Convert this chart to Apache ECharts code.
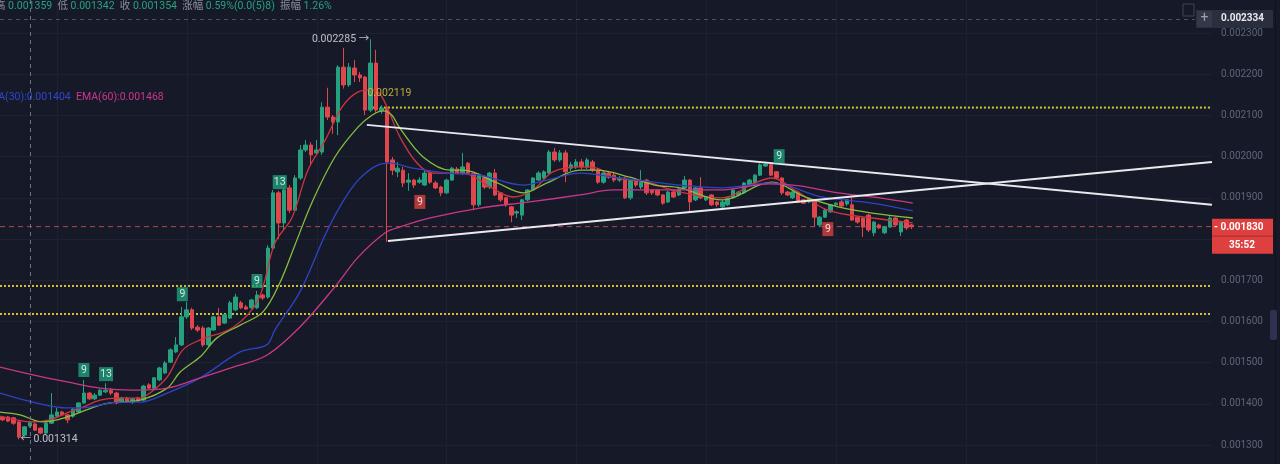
<!DOCTYPE html>
<html><head><meta charset="utf-8">
<script src="https://cdn.jsdelivr.net/npm/echarts@6/dist/echarts.min.js"></script>
<style>html,body{margin:0;padding:0;background:#161a28;overflow:hidden}#c{width:1280px;height:464px}</style>
</head><body><div id="c"></div>
<script>
// ---- data: [open, close, low, high] ----
const candles = [
[0.001368,0.001361,0.001358,0.001370],[0.001368,0.001358,0.001356,0.001370],[0.001366,0.001353,0.001349,0.001368],[0.001356,0.001319,0.001314,0.001358],
[0.001324,0.001344,0.001320,0.001346],[0.001346,0.001354,0.001342,0.001359],[0.001351,0.001336,0.001334,0.001355],[0.001341,0.001329,0.001326,0.001343],
[0.001329,0.001353,0.001326,0.001361],[0.001353,0.001373,0.001351,0.001426],[0.001370,0.001380,0.001368,0.001390],[0.001380,0.001373,0.001370,0.001383],
[0.001373,0.001361,0.001353,0.001375],[0.001370,0.001387,0.001366,0.001390],[0.001380,0.001402,0.001378,0.001404],[0.001402,0.001426,0.001400,0.001458],
[0.001426,0.001412,0.001409,0.001429],[0.001412,0.001421,0.001409,0.001426],[0.001421,0.001433,0.001419,0.001436],[0.001429,0.001433,0.001426,0.001450],
[0.001433,0.001426,0.001421,0.001438],[0.001426,0.001402,0.001399,0.001429],[0.001404,0.001414,0.001402,0.001417],[0.001414,0.001404,0.001402,0.001417],
[0.001404,0.001412,0.001400,0.001414],[0.001414,0.001407,0.001404,0.001417],[0.001409,0.001443,0.001407,0.001446],[0.001446,0.001438,0.001436,0.001450],
[0.001438,0.001463,0.001436,0.001465],[0.001458,0.001487,0.001455,0.001490],[0.001475,0.001499,0.001472,0.001504],[0.001501,0.001531,0.001499,0.001535],
[0.001526,0.001543,0.001523,0.001562],[0.001543,0.001611,0.001540,0.001635],[0.001611,0.001628,0.001606,0.001647],[0.001628,0.001584,0.001579,0.001633],
[0.001586,0.001579,0.001574,0.001591],[0.001584,0.001543,0.001538,0.001589],[0.001543,0.001584,0.001540,0.001586],[0.001579,0.001611,0.001577,0.001613],
[0.001611,0.001591,0.001589,0.001633],[0.001596,0.001616,0.001594,0.001618],[0.001608,0.001645,0.001606,0.001650],[0.001628,0.001659,0.001625,0.001667],
[0.001645,0.001633,0.001630,0.001650],[0.001635,0.001630,0.001628,0.001640],[0.001633,0.001652,0.001630,0.001655],[0.001633,0.001664,0.001630,0.001674],
[0.001664,0.001657,0.001652,0.001667],[0.001659,0.001778,0.001655,0.001785],[0.001778,0.001912,0.001775,0.001919],[0.001912,0.001839,0.001800,0.001917],
[0.001839,0.001919,0.001822,0.001924],[0.001924,0.001870,0.001863,0.001931],[0.001870,0.001948,0.001866,0.001955],[0.001948,0.002016,0.001943,0.002028],
[0.002016,0.002028,0.002011,0.002040],[0.002028,0.002004,0.001980,0.002035],[0.002009,0.002016,0.002004,0.002040],[0.002011,0.002120,0.002004,0.002132],
[0.002120,0.002096,0.002089,0.002167],[0.002096,0.002084,0.002055,0.002101],[0.002084,0.002217,0.002052,0.002222],[0.002217,0.002174,0.002165,0.002264],
[0.002174,0.002217,0.002169,0.002227],[0.002215,0.002198,0.002181,0.002234],[0.002198,0.002191,0.002181,0.002205],[0.002193,0.002113,0.002101,0.002196],
[0.002113,0.002227,0.002108,0.002285],[0.002227,0.002113,0.002106,0.002259],[0.002111,0.002118,0.002104,0.002125],[0.002118,0.001987,0.001793,0.002123],
[0.001992,0.001967,0.001955,0.001999],[0.001963,0.001972,0.001950,0.001987],[0.001967,0.001936,0.001926,0.001975],[0.001938,0.001943,0.001917,0.001960],
[0.001943,0.001931,0.001924,0.001946],[0.001938,0.001943,0.001934,0.001950],[0.001931,0.001960,0.001929,0.001965],[0.001960,0.001938,0.001934,0.001967],
[0.001936,0.001924,0.001921,0.001941],[0.001926,0.001912,0.001904,0.001929],[0.001912,0.001943,0.001909,0.001946],[0.001943,0.001972,0.001941,0.001975],
[0.001970,0.001960,0.001958,0.001975],[0.001960,0.001975,0.001955,0.002009],[0.001984,0.001960,0.001955,0.001987],[0.001960,0.001883,0.001870,0.001963],
[0.001883,0.001955,0.001878,0.001960],[0.001950,0.001926,0.001921,0.001955],[0.001926,0.001960,0.001921,0.001963],[0.001960,0.001907,0.001904,0.001970],
[0.001912,0.001895,0.001890,0.001914],[0.001900,0.001883,0.001878,0.001902],[0.001878,0.001858,0.001841,0.001880],[0.001863,0.001866,0.001851,0.001870],
[0.001858,0.001895,0.001846,0.001897],[0.001895,0.001919,0.001892,0.001921],[0.001919,0.001948,0.001917,0.001950],[0.001943,0.001960,0.001941,0.001965],
[0.001948,0.001963,0.001946,0.001967],[0.001960,0.002011,0.001958,0.002016],[0.002011,0.001992,0.001987,0.002021],[0.001992,0.002009,0.001987,0.002016],
[0.002009,0.001963,0.001938,0.002016],[0.001972,0.001980,0.001965,0.001987],[0.001975,0.001987,0.001970,0.001994],[0.001987,0.001975,0.001970,0.001994],
[0.001975,0.001992,0.001970,0.001997],[0.001987,0.001967,0.001963,0.001992],[0.001967,0.001938,0.001934,0.001970],[0.001938,0.001960,0.001934,0.001963],
[0.001960,0.001950,0.001946,0.001963],[0.001955,0.001943,0.001938,0.001960],[0.001943,0.001948,0.001938,0.001953],[0.001948,0.001900,0.001897,0.001950],
[0.001900,0.001943,0.001895,0.001946],[0.001943,0.001931,0.001926,0.001946],[0.001926,0.001938,0.001921,0.001967],[0.001943,0.001912,0.001907,0.001946],
[0.001919,0.001912,0.001907,0.001921],[0.001919,0.001907,0.001904,0.001921],[0.001907,0.001887,0.001883,0.001909],[0.001890,0.001914,0.001887,0.001917],
[0.001914,0.001902,0.001900,0.001917],[0.001907,0.001921,0.001904,0.001924],[0.001924,0.001943,0.001921,0.001953],[0.001943,0.001890,0.001866,0.001946],
[0.001895,0.001924,0.001892,0.001926],[0.001924,0.001900,0.001897,0.001950],[0.001895,0.001902,0.001892,0.001904],[0.001907,0.001883,0.001880,0.001909],
[0.001890,0.001883,0.001878,0.001892],[0.001878,0.001890,0.001875,0.001895],[0.001883,0.001900,0.001880,0.001902],[0.001900,0.001919,0.001897,0.001921],
[0.001907,0.001914,0.001904,0.001917],[0.001912,0.001936,0.001909,0.001938],[0.001931,0.001943,0.001929,0.001946],[0.001936,0.001955,0.001934,0.001958],
[0.001955,0.001980,0.001953,0.001984],[0.001977,0.001982,0.001975,0.001987],[0.001980,0.001955,0.001953,0.001984],[0.001963,0.001948,0.001946,0.001965],
[0.001948,0.001912,0.001907,0.001950],[0.001914,0.001907,0.001904,0.001917],[0.001900,0.001914,0.001897,0.001917],[0.001914,0.001890,0.001887,0.001917],
[0.001895,0.001887,0.001885,0.001897],[0.001890,0.001897,0.001887,0.001900],[0.001895,0.001853,0.001829,0.001897],[0.001834,0.001853,0.001829,0.001856],
[0.001853,0.001870,0.001851,0.001873],[0.001866,0.001883,0.001863,0.001885],[0.001883,0.001887,0.001880,0.001890],[0.001890,0.001880,0.001878,0.001895],
[0.001885,0.001895,0.001880,0.001897],[0.001883,0.001846,0.001844,0.001900],[0.001853,0.001841,0.001837,0.001856],[0.001851,0.001829,0.001805,0.001853],
[0.001858,0.001822,0.001817,0.001861],[0.001815,0.001841,0.001807,0.001844],[0.001834,0.001827,0.001824,0.001837],[0.001815,0.001829,0.001812,0.001832],
[0.001829,0.001851,0.001827,0.001856],[0.001851,0.001834,0.001832,0.001853],[0.001817,0.001841,0.001807,0.001844],[0.001846,0.001827,0.001822,0.001849],
[0.001834,0.001830,0.001824,0.001837]
];
// EMA lines: [candle index, value]
const emaFast = [[-0.5,0.001370],[5.6,0.001356],[8.7,0.001361],[11.9,0.001378],[14.8,0.001392],[18.0,0.001409],[21.1,0.001414],[25.4,0.001414],[27.2,0.001426],[30.4,0.001465],[33.3,0.001531],[36.5,0.001555],[42.6,0.001586],[47.2,0.001652],[50.3,0.001790],[53.5,0.001853],[56.4,0.001967],[59.6,0.002040],[62.7,0.002120],[65.7,0.002157],[68.3,0.002162],[70.1,0.002145],[73.4,0.002048],[76.6,0.001984],[79.5,0.001960],[85.1,0.001960],[90.1,0.001926],[94.3,0.001902],[98.0,0.001919],[101.7,0.001963],[106.7,0.001975],[109.8,0.001972],[112.8,0.001950],[119.1,0.001938],[125.2,0.001914],[132.9,0.001900],[139.0,0.001936],[142.2,0.001948],[146.4,0.001919],[152.5,0.001870],[160.7,0.001851],[168.2,0.001839]];
const emaMid = [[-0.5,0.001380],[3.2,0.001373],[7.4,0.001356],[11.9,0.001368],[18.0,0.001397],[21.1,0.001404],[25.4,0.001409],[30.4,0.001438],[32.8,0.001477],[36.5,0.001514],[39.6,0.001560],[43.9,0.001591],[48.1,0.001623],[51.2,0.001693],[54.0,0.001785],[57.2,0.001890],[61.4,0.001999],[65.7,0.002072],[68.3,0.002101],[70.3,0.002111],[71.9,0.002101],[73.4,0.002069],[77.7,0.001999],[82.7,0.001967],[85.1,0.001967],[91.4,0.001936],[96.2,0.001912],[100.6,0.001936],[106.7,0.001967],[109.8,0.001967],[115.9,0.001950],[120.5,0.001931],[125.2,0.001924],[132.9,0.001895],[142.2,0.001938],[148.3,0.001902],[154.4,0.001878],[160.7,0.001863],[168.2,0.001851]];
const ema30 = [[-0.5,0.001426],[5.6,0.001404],[11.9,0.001390],[14.8,0.001390],[18.0,0.001397],[21.1,0.001404],[25.4,0.001404],[30.4,0.001426],[36.5,0.001463],[43.9,0.001526],[48.8,0.001543],[50.3,0.001579],[54.9,0.001671],[59.6,0.001810],[62.7,0.001887],[65.7,0.001943],[69.4,0.001980],[71.6,0.001984],[75.8,0.001972],[82.1,0.001960],[88.2,0.001955],[96.2,0.001931],[100.6,0.001943],[106.7,0.001960],[112.8,0.001950],[120.5,0.001938],[125.2,0.001931],[132.9,0.001924],[142.2,0.001936],[151.4,0.001902],[160.7,0.001887],[168.2,0.001868]];
const ema60 = [[-0.5,0.001489],[5.6,0.001470],[11.9,0.001453],[18.0,0.001438],[24.1,0.001433],[30.4,0.001438],[36.5,0.001463],[42.6,0.001489],[48.8,0.001518],[54.9,0.001586],[61.4,0.001684],[65.7,0.001756],[70.7,0.001815],[73.4,0.001829],[79.0,0.001851],[88.2,0.001875],[97.4,0.001890],[106.7,0.001907],[112.8,0.001919],[120.5,0.001919],[132.6,0.001919],[141.8,0.001934],[147.3,0.001929],[154.4,0.001912],[162.1,0.001900],[168.2,0.001887]];
// drawn lines
const trendUpper = [[67.3,0.002077],[223.5,0.001883]];
const trendLower = [[71.2,0.001795],[223.5,0.001987]];
const levelTop = [[67.5,0.002119],[223.5,0.002119]];
const levelMid = [[-0.5,0.001686],[223.5,0.001686]];
const levelLow = [[-0.5,0.001618],[223.5,0.001618]];
const lastPrice = 0.001830, crossPrice = 0.002334, crossIndex = 5;
const vGridIdx = [10,34,58,82,106,130,154,178,202];
// TD sequential marks
const tdUp = [[15.0,0.001482,'9'],[19.1,0.001472,'13'],[33.2,0.001666,'9'],[47.0,0.001698,'9'],[51.2,0.001938,'13'],[143.5,0.002001,'9']];
const tdDown = [[77.1,0.001890,'9'],[152.5,0.001824,'9']];
const highNote = [68, 0.002285], lowNote = [3, 0.001314], levelNote = [67.5, 0.002119];

const UP = '#26a17f', DOWN = '#e0474c';
const SLOTS = 224;
const cats = Array.from({length: SLOTS}, (_, i) => String(i));
const FONT = 'Roboto, "Noto Sans CJK SC", sans-serif';

const chart = echarts.init(document.getElementById('c'));
const lineS = (name, data, color, width, type, z) => ({
  name, type: 'line', xAxisIndex: 1, yAxisIndex: 0, data, showSymbol: false, symbol: 'none',
  silent: true, z: z || 3, lineStyle: {color, width, type: type || 'solid'}, animation: false
});
const emaS = (name, data, color) => Object.assign(lineS(name, data, color, 1.3, 'solid', 4), {smooth: 0.35});

const tdS = (data, color) => ({
  type: 'scatter', xAxisIndex: 1, yAxisIndex: 0, z: 6, silent: true,
  data: data.map(d => ({value: [d[0], d[1]], name: d[2], symbolSize: d[2].length > 1 ? [14, 14] : [11, 14]})),
  symbol: 'rect', itemStyle: {color},
  label: {show: true, position: 'inside', formatter: p => p.name, color: '#ffffff', fontSize: 10.5, fontFamily: FONT}
});
const noteS = (pt, text, color, position) => ({
  type: 'scatter', xAxisIndex: 1, yAxisIndex: 0, z: 7, silent: true, symbolSize: 1,
  itemStyle: {color: 'rgba(0,0,0,0)'}, data: [pt],
  label: {show: true, position, distance: 1, formatter: text, color, fontSize: 10.5, fontFamily: FONT}
});

chart.setOption({
  backgroundColor: '#161a28',
  animation: false,
  grid: {left: 0, right: 68, top: 33, bottom: 19},
  xAxis: [
    {type: 'category', data: cats, boundaryGap: true, show: false},
    {type: 'value', min: -0.5, max: SLOTS - 0.5, show: false}
  ],
  yAxis: {
    type: 'value', position: 'right', min: 0.0013, max: 0.0023, interval: 0.0001,
    axisLine: {show: false}, axisTick: {show: false},
    axisLabel: {color: '#5e6579', fontSize: 10, fontFamily: FONT, margin: 9, formatter: v => v.toFixed(6)},
    splitLine: {lineStyle: {color: '#1d2132', width: 1}}
  },
  series: [
    lineS('lvTop', levelTop, '#d2c431', 2, [2, 2], 2),
    lineS('lvMid', levelMid, '#d2c431', 2, [2, 2], 2),
    lineS('lvLow', levelLow, '#d2c431', 2, [2, 2], 2),
    lineS('last', [[-0.5, lastPrice], [SLOTS - 0.5, lastPrice]], '#b8454f', 1, [5, 4], 2),
    {
      type: 'candlestick', xAxisIndex: 0, yAxisIndex: 0, data: candles, barWidth: 4, z: 3,
      itemStyle: {color: UP, color0: DOWN, borderColor: UP, borderColor0: DOWN, borderWidth: 1}
    },
    emaS('EMA7', emaFast, '#cf3340'),
    emaS('EMA14', emaMid, '#86bd3e'),
    emaS('EMA30', ema30, '#3042c4'),
    emaS('EMA60', ema60, '#c93786'),
    lineS('trendUpper', trendUpper, '#e9e9ee', 2, 'solid', 5),
    lineS('trendLower', trendLower, '#e9e9ee', 2, 'solid', 5),
    tdS(tdUp, '#1f9d7b'),
    tdS(tdDown, '#d8403f'),
    noteS(highNote, '0.002285 →', '#e6e7ea', 'left'),
    noteS(lowNote, '← 0.001314', '#e6e7ea', 'right'),
    noteS(levelNote, '0.002119', '#e0cf3a', [0, -19])
  ]
});

const yLast = chart.convertToPixel({yAxisIndex: 0}, lastPrice);
const yCross = chart.convertToPixel({yAxisIndex: 0}, crossPrice);
const xCross = chart.convertToPixel({xAxisIndex: 1}, crossIndex);
const G = [];
vGridIdx.forEach(v => {
  const x = Math.round(chart.convertToPixel({xAxisIndex: 1}, v)) + 0.5;
  G.push({type: 'line', z: -1, silent: true, shape: {x1: x, y1: 0, x2: x, y2: 464}, style: {stroke: '#1d2132', lineWidth: 1}});
});
G.push({type: 'line', z: 50, silent: true, shape: {x1: Math.round(xCross) + 0.5, y1: 0, x2: Math.round(xCross) + 0.5, y2: 464}, style: {stroke: '#6b7183', lineWidth: 1, lineDash: [4, 4]}});
G.push({type: 'line', z: 50, silent: true, shape: {x1: 0, y1: Math.round(yCross) + 0.5, x2: 1195, y2: Math.round(yCross) + 0.5}, style: {stroke: '#4d5366', lineWidth: 1, lineDash: [4, 4]}});
const F = '10.5px ' + FONT;
G.push(
  {type: 'text', z: 60, left: -5, top: 1, silent: true, style: {
    text: '{g|高} {v|0.001359}  {g|低} {v|0.001342}  {g|收} {v|0.001354}  {g|涨幅} {v|0.59%(0.0(5)8)}  {g|振幅} {v|1.26%}',
    font: F, fill: '#8a8f9e',
    rich: {g: {fill: '#8a8f9e', font: F}, v: {fill: '#26a17f', font: F}}
  }},
  {type: 'text', z: 60, left: -17, top: 92, silent: true, style: {
    text: '{b|EMA(30):0.001404}  {m|EMA(60):0.001468}', font: F,
    rich: {b: {fill: '#3245cc', font: F}, m: {fill: '#cc368c', font: F}}
  }},
  {type: 'rect', z: 60, shape: {x: 1196, y: yCross - 9, width: 77, height: 18}, style: {fill: '#2a2e3d'}, silent: true},
  {type: 'rect', z: 61, shape: {x: 1197, y: yCross - 8, width: 15, height: 16}, style: {fill: '#343849'}, silent: true},
  {type: 'text', z: 62, x: 1204.5, y: yCross, silent: true, style: {text: '+', fill: '#9aa0ae', font: '14px ' + FONT, align: 'center', verticalAlign: 'middle'}},
  {type: 'text', z: 62, x: 1221, y: yCross, silent: true, style: {text: '0.002334', fill: '#e8e9ee', font: 'bold 10px ' + FONT, align: 'left', verticalAlign: 'middle'}},
  {type: 'rect', z: 60, shape: {x: 1183, y: 4, width: 11, height: 12}, style: {fill: 'none', stroke: '#3e4355', lineWidth: 1}, silent: true},
  {type: 'rect', z: 60, shape: {x: 1212, y: yLast - 8, width: 61, height: 35}, style: {fill: '#de3f3f'}, silent: true},
  {type: 'line', z: 61, shape: {x1: 1212, y1: yLast + 9.5, x2: 1273, y2: yLast + 9.5}, style: {stroke: '#a82a2c', lineWidth: 1}, silent: true},
  {type: 'text', z: 62, x: 1214, y: yLast + 0.5, silent: true, style: {text: '- 0.001830', fill: '#ffffff', font: 'bold 10px ' + FONT, align: 'left', verticalAlign: 'middle'}},
  {type: 'text', z: 62, x: 1242, y: yLast + 18.5, silent: true, style: {text: '35:52', fill: '#ffffff', font: 'bold 10px ' + FONT, align: 'center', verticalAlign: 'middle'}},
  {type: 'line', z: 60, shape: {x1: 1275.5, y1: 0, x2: 1275.5, y2: 464}, style: {stroke: '#10131c', lineWidth: 1}, silent: true},
  {type: 'rect', z: 60, shape: {x: 1270, y: 310, width: 7, height: 30, r: 2}, style: {fill: '#2c3250'}, silent: true}
);
chart.setOption({graphic: G});
</script>
</body></html>
